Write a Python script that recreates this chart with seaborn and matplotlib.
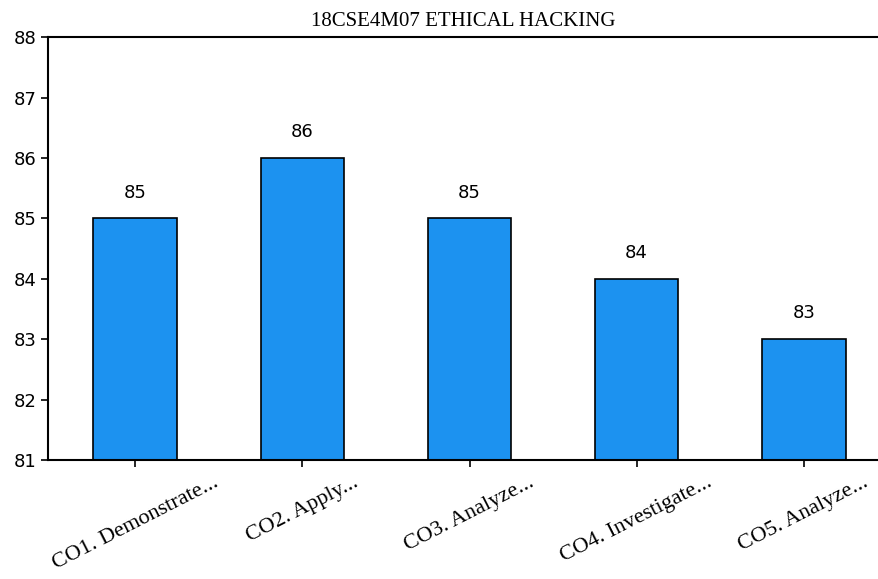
import matplotlib
matplotlib.use("Agg")
import matplotlib.pyplot as plt
import seaborn as sns
import pandas as pd

outcomes = ["CO1. Demonstrate...", "CO2. Apply...", "CO3. Analyze...",
            "CO4. Investigate...", "CO5. Analyze..."]
scores = [85, 86, 85, 84, 83]
y_ticks = [81, 82, 83, 84, 85, 86, 87, 88]

sns.set_style("white")
plt.rcParams['font.family'] = ['DejaVu Sans']
plt.rcParams['text.color'] = 'black'
plt.rcParams['xtick.color'] = 'black'
plt.rcParams['ytick.color'] = 'black'

df = pd.DataFrame({'Outcome': outcomes, 'Score': scores})

fig = plt.figure(figsize=(8.79, 5.79), dpi=100)
ax = fig.add_axes([0.055, 0.205, 0.945, 0.731])

sns.barplot(x='Outcome', y='Score', data=df, ax=ax, color='#1c92f0',
            saturation=1, width=0.5, edgecolor='black', linewidth=1.2)

ax.set_ylim(81, 88)
ax.set_yticks(y_ticks)
ax.set_xlim(-0.52, 4.45)
ax.set_xlabel('')
ax.set_ylabel('')

# value labels above the bars
for i, v in enumerate(scores):
    ax.text(i, v + 0.28, str(v), ha='center', va='bottom', fontsize=13, color='black')

ax.set_title('18CSE4M07 ETHICAL HACKING', fontsize=15,
             family='Liberation Serif', pad=8, color='black')

ax.tick_params(axis='both', which='both', length=5, width=1.2, color='black',
               direction='out', bottom=True, left=True)
ax.tick_params(axis='y', labelsize=13)
ax.tick_params(axis='x', pad=4)
ax.set_xticks(range(len(outcomes)))
ax.set_xticklabels(outcomes, rotation=27, ha='center',
                   fontsize=16, family='Liberation Serif')

for side in ['left', 'bottom', 'top']:
    ax.spines[side].set_color('black')
    ax.spines[side].set_linewidth(1.5)
ax.spines['right'].set_visible(False)

fig.savefig('out.png', dpi=100)
